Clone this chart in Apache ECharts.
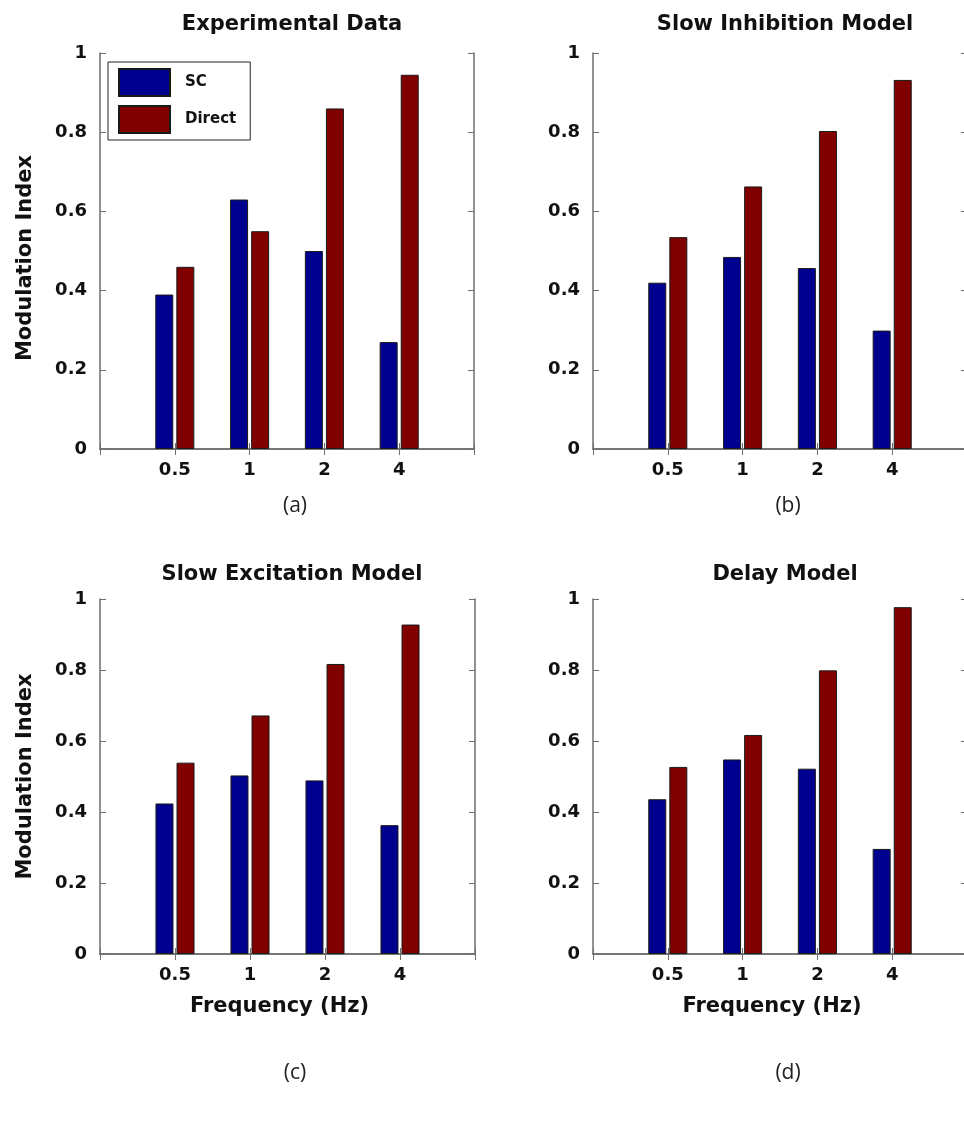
<!DOCTYPE html>
<html><head><meta charset="utf-8">
<script src="https://cdn.jsdelivr.net/npm/echarts@6/dist/echarts.min.js"></script>
<style>html,body{margin:0;padding:0;background:#fff;overflow:hidden}#c{width:964px;height:1142px}</style>
</head><body><div id="c"></div>
<script>
// ---- data ----
const frequencies = ['0.5', '1', '2', '4'];
const panelTitles = ['Experimental Data', 'Slow Inhibition Model', 'Slow Excitation Model', 'Delay Model'];
const panelLetters = ['(a)', '(b)', '(c)', '(d)'];
const yTicks = [0, 0.2, 0.4, 0.6, 0.8, 1];
const seriesNames = ['SC', 'Direct'];
const expSC = [0.39, 0.63, 0.50, 0.27];
const expDirect = [0.46, 0.55, 0.86, 0.945];
const inhSC = [0.42, 0.485, 0.457, 0.299];
const inhDirect = [0.535, 0.663, 0.803, 0.932];
const excSC = [0.424, 0.503, 0.489, 0.363];
const excDirect = [0.539, 0.672, 0.817, 0.928];
const delSC = [0.436, 0.548, 0.522, 0.296];
const delDirect = [0.527, 0.617, 0.799, 0.977];

// ---- layout / style ----
const panelData = [[expSC, expDirect], [inhSC, inhDirect], [excSC, excDirect], [delSC, delDirect]];
const grids = [
  {left: 100, top: 53, width: 374, height: 396},
  {left: 593, top: 53, width: 374, height: 396},
  {left: 100, top: 599, width: 375, height: 355},
  {left: 593, top: 599, width: 374, height: 355}
];
const yNamePadding = [[0, 14, 0, 0], [0, 0, 0, 0], [0, 0, 0, 0], [0, 0, 0, 0]];
const colors = ['#00008f', '#800000'];
const axisColor = '#6e6e6e';
const boldFont = {fontFamily: 'DejaVu Sans', fontWeight: 'bold', color: '#111'};
const cats = [''].concat(frequencies, ['']);

const option = {
  animation: false,
  backgroundColor: '#fff',
  title: [],
  grid: [],
  xAxis: [],
  yAxis: [],
  series: [],
  legend: {
    data: seriesNames,
    orient: 'vertical',
    left: 108, top: 62,
    itemWidth: 51, itemHeight: 27, itemGap: 8,
    padding: [6, 14, 6, 10],
    borderColor: '#222', borderWidth: 1,
    backgroundColor: '#fff',
    selectedMode: false,
    icon: 'rect',
    textStyle: Object.assign({fontSize: 15, padding: [0, 0, 0, 10]}, boldFont)
  }
};

panelData.forEach((pd, i) => {
  const g = grids[i];
  const bottomRow = i >= 2;
  const leftCol = i % 2 === 0;
  option.grid.push(Object.assign({containLabel: false, outerBoundsMode: 'none'}, g));
  const cx = g.left + 187;
  option.title.push({
    text: panelTitles[i], left: cx, top: bottomRow ? 558 : 8, textAlign: 'center',
    textStyle: Object.assign({fontSize: 21, lineHeight: 24}, boldFont)
  });
  option.title.push({
    text: panelLetters[i], left: cx + 3, top: bottomRow ? 1056 : 489, textAlign: 'center',
    textStyle: {fontFamily: 'Open Sans', fontWeight: 'normal', fontSize: 21, lineHeight: 24, color: '#222'}
  });
  const lineStyle = {color: axisColor, width: 1.5};
  const tick = {show: true, inside: true, length: 6, lineStyle: {color: axisColor, width: 1}};
  option.xAxis.push({
    type: 'category', gridIndex: i, data: cats, boundaryGap: false, position: 'bottom',
    axisLine: {show: true, lineStyle}, axisTick: tick,
    axisLabel: Object.assign({interval: 0, margin: 12, fontSize: 18}, boldFont),
    splitLine: {show: false},
    name: bottomRow ? 'Frequency (Hz)' : '', nameLocation: 'middle', nameGap: 42,
    nameTextStyle: Object.assign({fontSize: 21, padding: [0, 16, 0, 0]}, boldFont)
  });
  option.xAxis.push({
    type: 'category', gridIndex: i, data: cats, boundaryGap: false, position: 'top',
    axisLine: {show: true, lineStyle}, axisTick: tick, axisLabel: {show: false}, splitLine: {show: false}
  });
  option.yAxis.push({
    type: 'value', gridIndex: i, min: yTicks[0], max: yTicks[yTicks.length - 1], interval: 0.2, position: 'left',
    axisLine: {show: true, lineStyle}, axisTick: tick,
    axisLabel: Object.assign({margin: 13, fontSize: 18}, boldFont),
    splitLine: {show: false},
    name: leftCol ? 'Modulation Index' : '', nameLocation: 'middle', nameGap: 64, nameRotate: 90,
    nameTextStyle: Object.assign({fontSize: 21, padding: yNamePadding[i]}, boldFont)
  });
  option.yAxis.push({
    type: 'value', gridIndex: i, min: yTicks[0], max: yTicks[yTicks.length - 1], interval: 0.2, position: 'right',
    axisLine: {show: true, lineStyle}, axisTick: tick, axisLabel: {show: false}, splitLine: {show: false}
  });
  pd.forEach((vals, s) => {
    option.series.push({
      type: 'bar', name: seriesNames[s], xAxisIndex: 2 * i, yAxisIndex: 2 * i,
      data: [null].concat(vals, [null]),
      barWidth: 18, barGap: '17%',
      itemStyle: {color: colors[s], borderColor: '#1a1a1a', borderWidth: 1}
    });
  });
});

const chart = echarts.init(document.getElementById('c'), null, {renderer: 'canvas'});
chart.setOption(option);
</script>
</body></html>
